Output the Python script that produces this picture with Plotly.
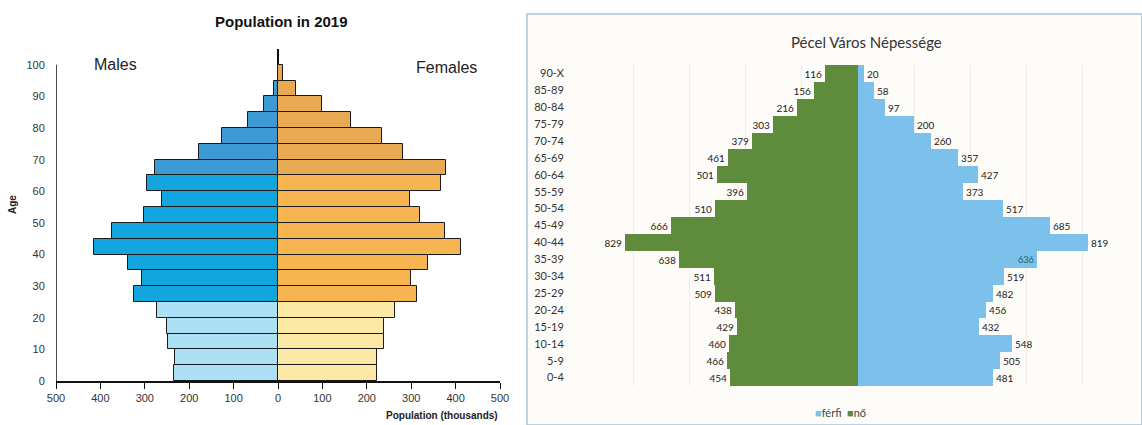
import plotly.graph_objects as go

# ---------------- Left chart data: Population in 2019 ----------------
age_start = [0, 5, 10, 15, 20, 25, 30, 35, 40, 45, 50, 55, 60, 65, 70, 75, 80, 85, 90, 95]
males = [235, 232, 247, 249, 272, 325, 307, 337, 414, 373, 301, 262, 294, 278, 178, 126, 67, 31, 9, 0]
females = [222, 222, 238, 238, 264, 312, 300, 338, 412, 376, 320, 298, 366, 379, 281, 235, 165, 98, 40, 12]
x_tickvals = [-500, -400, -300, -200, -100, 0, 100, 200, 300, 400, 500]
x_ticktext = ["500", "400", "300", "200", "100", "0", "100", "200", "300", "400", "500"]
y_tickvals = [0, 10, 20, 30, 40, 50, 60, 70, 80, 90, 100]

# ---------------- Right chart data: Pécel Város Népessége ----------------
groups = ["0-4", "5-9", "10-14", "15-19", "20-24", "25-29", "30-34", "35-39", "40-44",
          "45-49", "50-54", "55-59", "60-64", "65-69", "70-74", "75-79", "80-84", "85-89", "90-X"]
ferfi = [481, 505, 548, 432, 456, 482, 519, 636, 819, 685, 517, 373, 427, 357, 260, 200, 97, 58, 20]
no = [454, 466, 460, 429, 438, 509, 511, 638, 829, 666, 510, 396, 501, 461, 379, 303, 216, 156, 116]

W, H = 1142, 425
BLUE_R = "#7cc0ec"
GREEN_R = "#5e8b3c"

def male_color(a):
    if a < 25:
        return "#ace0f5"
    if a < 65:
        return "#13a5de"
    return "#3d9ad5"

def female_color(a):
    if a < 25:
        return "#fde9a6"
    if a < 65:
        return "#f7b552"
    return "#e8a952"

age_mid = [a + 2.5 for a in age_start]

fig = go.Figure()

fig.add_trace(go.Bar(
    y=age_mid, x=[-m for m in males], orientation="h", width=5,
    marker=dict(color=[male_color(a) for a in age_start], line=dict(color="#1a1a1a", width=1)),
    xaxis="x", yaxis="y", showlegend=False, hoverinfo="skip"))
fig.add_trace(go.Bar(
    y=age_mid, x=females, orientation="h", width=5,
    marker=dict(color=[female_color(a) for a in age_start], line=dict(color="#1a1a1a", width=1)),
    xaxis="x", yaxis="y", showlegend=False, hoverinfo="skip"))

# Right chart
pos = ["inside" if g == "35-39" else "outside" for g in groups]
fcol = ["#1f5f78" if g == "35-39" else "#222222" for g in groups]
fig.add_trace(go.Bar(
    y=groups, x=ferfi, orientation="h", name="férfi",
    marker=dict(color=BLUE_R, line=dict(width=0)),
    text=[str(v) for v in ferfi], textposition=pos, insidetextanchor="end",
    textfont=dict(family="Lato", size=10, color=fcol),
    cliponaxis=False, xaxis="x2", yaxis="y2", showlegend=False))
fig.add_trace(go.Bar(
    y=groups, x=[-v for v in no], orientation="h", name="nő",
    marker=dict(color=GREEN_R, line=dict(width=0)),
    text=[str(v) for v in no], textposition="outside",
    textfont=dict(family="Lato", size=10, color="#222222"),
    cliponaxis=False, xaxis="x2", yaxis="y2", showlegend=False))

fig.update_layout(
    template="none",
    width=W, height=H,
    margin=dict(l=0, r=0, t=0, b=0, pad=0),
    paper_bgcolor="white", plot_bgcolor="rgba(0,0,0,0)",
    barmode="overlay", bargap=0,
    showlegend=False,
    font=dict(family="Liberation Sans", color="#333"),
    xaxis=dict(domain=[56 / W, 500 / W], range=[-500, 500], tickvals=x_tickvals, ticktext=x_ticktext,
               automargin=False, showgrid=False, zeroline=True, zerolinecolor="#111", zerolinewidth=1.5,
               showline=True, linecolor="#111", linewidth=1.5, ticks="outside", ticklen=6,
               tickcolor="#111", tickfont=dict(size=11, color="#333"), anchor="y", fixedrange=True),
    yaxis=dict(domain=[1 - 381 / H, 1 - 49 / H], range=[0, 105], tickvals=y_tickvals,
               automargin=False, showgrid=False, zeroline=False, showline=False, ticks="outside",
               ticklen=8, tickcolor="rgba(0,0,0,0)", tickfont=dict(size=11, color="#333"), anchor="x"),
    xaxis2=dict(domain=[577 / W, 1139 / W], range=[-1000, 1000], dtick=200, tick0=0,
                automargin=False, showgrid=True, gridcolor="#efebe6", gridwidth=1, zeroline=False,
                showticklabels=False, showline=False, ticks="", anchor="y2"),
    yaxis2=dict(domain=[1 - 386 / H, 1 - 65 / H], categoryorder="array", categoryarray=groups,
                automargin=False, showgrid=False, zeroline=False, showline=False, ticks="outside",
                ticklen=10, tickcolor="rgba(0,0,0,0)",
                tickfont=dict(family="Lato", size=11, color="#333"), anchor="x2"),
    shapes=[
        dict(type="rect", xref="paper", yref="paper", x0=527 / W, x1=1, y0=0, y1=1 - 14 / H,
             line=dict(color="#a8c3d6", width=1.5), fillcolor="#fefcf9", layer="below"),
        dict(type="line", xref="x", yref="y", x0=-500, x1=-500, y0=0, y1=100,
             line=dict(color="#111", width=1.5)),
    ],
    annotations=[
        dict(text="<b>Population in 2019</b>", xref="paper", yref="paper", x=281 / W, y=1 - 22 / H,
             showarrow=False, font=dict(size=15, color="#111"), xanchor="center", yanchor="middle"),
        dict(text="Males", xref="x", yref="y", x=-367, y=100, showarrow=False,
             font=dict(size=16, color="#222"), xanchor="center", yanchor="middle"),
        dict(text="Females", xref="x", yref="y", x=380, y=99, showarrow=False,
             font=dict(size=16, color="#222"), xanchor="center", yanchor="middle"),
        dict(text="<b>Age</b>", xref="paper", yref="paper", x=12 / W, y=1 - 205 / H, textangle=-90,
             showarrow=False, font=dict(size=10, color="#222"), xanchor="center", yanchor="middle"),
        dict(text="<b>Population (thousands)</b>", xref="paper", yref="paper", x=500 / W, y=1 - 415 / H,
             showarrow=False, font=dict(size=10, color="#222"), xanchor="right", yanchor="middle"),
        dict(text="Pécel Város Népessége", xref="paper", yref="paper", x=866 / W, y=1 - 42 / H,
             showarrow=False, font=dict(family="Lato", size=15, color="#333"), xanchor="center",
             yanchor="middle"),
        dict(text=("<span style='color:%s'>■</span>férfi  <span style='color:%s'>■</span>nő"
                   % (BLUE_R, GREEN_R)),
             xref="paper", yref="paper", x=840 / W, y=1 - 412 / H, showarrow=False,
             font=dict(family="Lato", size=11, color="#444"), xanchor="center", yanchor="middle"),
    ],
)

fig.write_html("out.html", config={"displayModeBar": False},
               post_script="document.body.style.margin='0';document.body.style.overflow='hidden';")
